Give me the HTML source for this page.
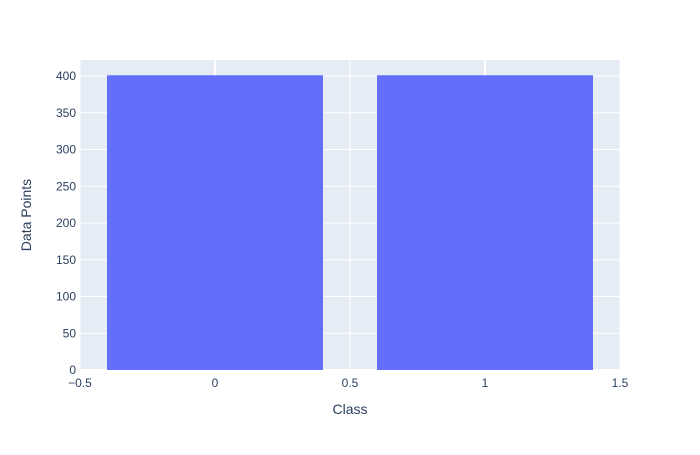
<!DOCTYPE html>
<html><head><meta charset="utf-8"><style>
body{margin:0;background:#fff;}
svg text{font-family:"Liberation Sans",sans-serif;fill:#2a3f5f;}
</style></head><body>
<svg id="chart" width="700" height="450">
<rect x="80" y="60" width="540" height="310" fill="#e5ecf6"/>
<g id="grid"></g><g id="bars"></g><g id="ticks"></g>
<text x="350" y="414" text-anchor="middle" font-size="14">Class</text>
<text transform="translate(31,215) rotate(-90)" text-anchor="middle" font-size="14">Data Points</text>
</svg>
<script>
const categories=[0,1];
const values=[401,401];
const xTicks=[-0.5,0,0.5,1,1.5];
const xTickLabels=["−0.5","0","0.5","1","1.5"];
const yTicks=[0,50,100,150,200,250,300,350,400];
const NS="http://www.w3.org/2000/svg";
const x=v=>80+(v+0.5)*270;
const y=v=>370-v*0.735;
function mk(t,a,p){const e=document.createElementNS(NS,t);for(const k in a)e.setAttribute(k,a[k]);document.getElementById(p).appendChild(e);return e;}
xTicks.forEach((t,i)=>{
 const g=mk('line',{x1:x(t),x2:x(t),y1:60,y2:370,stroke:'#fff','stroke-width':t===0||t===1?2:1},'grid');
 
 
 const l=mk('text',{x:x(t),y:387,'text-anchor':'middle','font-size':12},'ticks');l.textContent=xTickLabels[i];
 
 
});
yTicks.forEach(t=>{
 const g=mk('line',{x1:80,x2:620,y1:y(t),y2:y(t),stroke:'#fff','stroke-width':t===0?2:1},'grid');
 
 
 const l=mk('text',{x:76,y:y(t)+4,'text-anchor':'end','font-size':12},'ticks');l.textContent=t;
 
 
});
categories.forEach((c,i)=>{
 const b=mk('rect',{x:x(c-0.4),y:y(values[i]),width:x(c+0.4)-x(c-0.4),height:y(0)-y(values[i]),fill:'#636efa'},'bars');
 
 
});
</script>
</body></html>
